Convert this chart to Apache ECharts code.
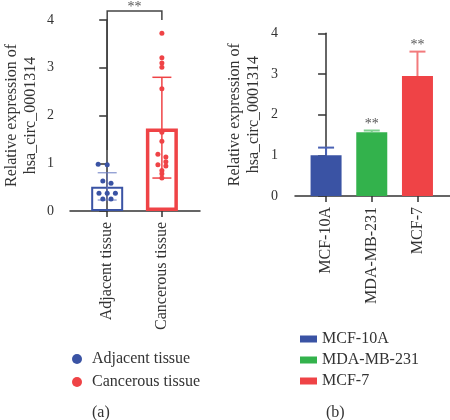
<!DOCTYPE html>
<html>
<head>
<meta charset="utf-8">
<script src="https://cdn.jsdelivr.net/npm/echarts@6/dist/echarts.min.js"></script>
<style>html,body{margin:0;padding:0;background:#fff}#c{width:450px;height:420px}</style>
</head>
<body>
<div id="c"></div>
<script>
// ---------- data: panel (a) ----------
const tissueCategories = ['Adjacent tissue', 'Cancerous tissue'];
const tissueMeans = [0.51, 1.73];
const tissueErrLow = [0.23, 0.69];
const tissueErrHigh = [0.80, 2.80];
const adjacentPoints = [0.98, 0.97, 0.63, 0.58, 0.37, 0.37, 0.37, 0.25, 0.25];
const adjacentJitter = [-0.165, 0, -0.08, 0.07, -0.15, 0, 0.15, -0.08, 0.07];
const cancerousPoints = [3.72, 3.21, 3.10, 3.01, 2.56, 1.65, 1.46, 1.19, 1.13, 1.03, 0.97, 0.94, 0.85, 0.78, 0.69];
const cancerousJitter = [0, 0, 0, 0, 0, 0, 0, -0.073, 0.073, 0.073, -0.073, 0.073, 0, 0, 0];
// bracket: [fromCat, toCat, leftBottom, top, rightBottom]
const tissueBracket = [0, 1, 1.28, 4.19, 4.0];
const tissueSig = '**';
// ---------- data: panel (b) ----------
const cellLines = ['MCF-10A', 'MDA-MB-231', 'MCF-7'];
const cellMeans = [1.0, 1.57, 2.95];
const cellErrHigh = [1.19, 1.61, 3.55];
const cellSig = ['', '**', '**'];
const yTicks = [0, 1, 2, 3, 4];

const FONT = 'Liberation Serif';
const AXIS = '#333';
const BLUE = '#3a53a4', RED = '#ef4346', GREEN = '#33b24c';
const tissueColors = [BLUE, RED];
const tissueErrColors = ['#6a7cc4', RED];
const cellColors = [BLUE, GREEN, RED];
const cellErrColors = ['#4a62b4', '#7fd08f', '#f27a7c'];

const chart = echarts.init(document.getElementById('c'), null, {renderer: 'canvas'});

function yAxisCfg(gridIndex, nameGap, labelMargin) {
  return {
    gridIndex: gridIndex, type: 'value', min: yTicks[0], max: yTicks[yTicks.length - 1], interval: 1,
    name: 'Relative expression of\nhsa_circ_0001314', nameLocation: 'middle', nameGap: nameGap, nameRotate: 90,
    nameTextStyle: {fontFamily: FONT, fontSize: 16, color: '#333', lineHeight: 19},
    axisLine: {show: true, lineStyle: {color: AXIS, width: 1.5}},
    axisTick: {show: true, length: 8, lineStyle: {color: AXIS, width: 1.5}},
    axisLabel: {fontFamily: FONT, fontSize: 14, color: '#333', margin: labelMargin},
    splitLine: {show: false}
  };
}
function xAxisCfg(gridIndex, cats, max) {
  const vals = cats.map((c, i) => i);
  return {
    gridIndex: gridIndex, type: 'value', min: -0.68, max: max,
    axisLine: {show: true, onZero: false, lineStyle: {color: AXIS, width: 1.5}},
    axisTick: {show: true, length: 6, customValues: vals, lineStyle: {color: AXIS, width: 1.5}},
    axisLabel: {customValues: vals, rotate: 90, margin: 11, fontFamily: FONT, fontSize: 16, color: '#333',
      formatter: v => cats[Math.round(v)]},
    splitLine: {show: false}
  };
}

const series = [];
// panel (a) hollow bars
series.push({
  type: 'bar', xAxisIndex: 0, yAxisIndex: 0, barWidth: 32, z: 2,
  data: tissueMeans.map((m, i) => ({value: [i, m], itemStyle: {color: 'rgba(255,255,255,0)', borderColor: tissueColors[i], borderWidth: i === 0 ? 2 : 3.5}}))
});
// panel (a) error bars
series.push({
  type: 'custom', xAxisIndex: 0, yAxisIndex: 0, z: 3,
  data: tissueMeans.map((m, i) => [i, tissueErrLow[i], tissueErrHigh[i]]),
  renderItem: function (params, api) {
    const x = api.value(0);
    const lo = api.coord([x, api.value(1)]), hi = api.coord([x, api.value(2)]);
    const c = tissueErrColors[params.dataIndex];
    const hw = 9.5, lw = params.dataIndex === 0 ? 1 : 1.5;
    return {type: 'group', children: [
      {type: 'line', shape: {x1: lo[0], y1: lo[1], x2: hi[0], y2: hi[1]}, style: {stroke: c, lineWidth: lw}},
      {type: 'line', shape: {x1: hi[0] - hw, y1: hi[1], x2: hi[0] + hw, y2: hi[1]}, style: {stroke: c, lineWidth: lw}},
      {type: 'line', shape: {x1: lo[0] - hw, y1: lo[1], x2: lo[0] + hw, y2: lo[1]}, style: {stroke: c, lineWidth: lw}}
    ]};
  }
});
// panel (a) points
series.push({
  name: tissueCategories[0], type: 'scatter', xAxisIndex: 0, yAxisIndex: 0, z: 4,
  symbol: 'circle', symbolSize: 5, itemStyle: {color: BLUE, opacity: 1},
  data: adjacentPoints.map((v, i) => [0 + adjacentJitter[i], v])
});
series.push({
  name: tissueCategories[1], type: 'scatter', xAxisIndex: 0, yAxisIndex: 0, z: 4,
  symbol: 'circle', symbolSize: 5, itemStyle: {color: RED, opacity: 1},
  data: cancerousPoints.map((v, i) => [1 + cancerousJitter[i], v])
});
// panel (a) significance bracket
series.push({
  type: 'custom', xAxisIndex: 0, yAxisIndex: 0, z: 5, clip: false,
  data: [tissueBracket],
  renderItem: function (params, api) {
    const x0 = api.value(0), x1 = api.value(1);
    const p1 = api.coord([x0, api.value(2)]), p2 = api.coord([x0, api.value(3)]);
    const p3 = api.coord([x1, api.value(3)]), p4 = api.coord([x1, api.value(4)]);
    return {type: 'group', children: [
      {type: 'polyline', shape: {points: [p1, p2, p3, p4]}, style: {stroke: '#444', lineWidth: 1.5, fill: null}},
      {type: 'text', style: {text: tissueSig, x: (p2[0] + p3[0]) / 2, y: p2[1] + 3, align: 'center', verticalAlign: 'bottom',
        font: '14px "' + FONT + '"', fill: '#555'}}
    ]};
  }
});
// panel (b) bars
cellLines.forEach((name, i) => {
  series.push({
    name: name, type: 'bar', xAxisIndex: 1, yAxisIndex: 1, barWidth: 31, barGap: '-100%', z: 2,
    itemStyle: {color: cellColors[i]},
    data: [[i, cellMeans[i]]]
  });
});
// panel (b) error bars + significance
series.push({
  type: 'custom', xAxisIndex: 1, yAxisIndex: 1, z: 3, clip: false,
  data: cellMeans.map((m, i) => [i, m, cellErrHigh[i]]),
  renderItem: function (params, api) {
    const x = api.value(0);
    const lo = api.coord([x, api.value(1)]), hi = api.coord([x, api.value(2)]);
    const c = cellErrColors[params.dataIndex];
    const hw = 8;
    return {type: 'group', children: [
      {type: 'line', shape: {x1: lo[0], y1: lo[1], x2: hi[0], y2: hi[1]}, style: {stroke: c, lineWidth: 2}},
      {type: 'line', shape: {x1: hi[0] - hw, y1: hi[1], x2: hi[0] + hw, y2: hi[1]}, style: {stroke: c, lineWidth: 2}},
      {type: 'text', style: {text: cellSig[params.dataIndex], x: hi[0], y: hi[1] + 1, align: 'center', verticalAlign: 'bottom',
        font: '14px "' + FONT + '"', fill: '#555'}}
    ]};
  }
});

chart.setOption({
  animation: false,
  grid: [
    {left: 70, top: 20, width: 130, height: 191},
    {left: 295, top: 33.3, width: 155, height: 162.7}
  ],
  xAxis: [xAxisCfg(0, tissueCategories, 1.697), xAxisCfg(1, cellLines, 2.712)],
  yAxis: [yAxisCfg(0, 30, 16), yAxisCfg(1, 31.5, 17)],
  legend: [
    {data: tissueCategories, orient: 'vertical', left: 67, top: 346, itemGap: 7, icon: 'circle',
      itemWidth: 20, itemHeight: 10, textStyle: {fontFamily: FONT, fontSize: 16, color: '#333'}, selectedMode: false},
    {data: cellLines, orient: 'vertical', left: 295, top: 326, itemGap: 5, icon: 'rect',
      itemWidth: 17, itemHeight: 7, textStyle: {fontFamily: FONT, fontSize: 16, color: '#333'}, selectedMode: false}
  ],
  title: [
    {text: '(a)', left: 92, top: 405, padding: 0, textStyle: {fontFamily: FONT, fontSize: 16, fontWeight: 'normal', color: '#333'}},
    {text: '(b)', left: 326, top: 405, padding: 0, textStyle: {fontFamily: FONT, fontSize: 16, fontWeight: 'normal', color: '#333'}}
  ],
  series: series
});
</script>
</body>
</html>
